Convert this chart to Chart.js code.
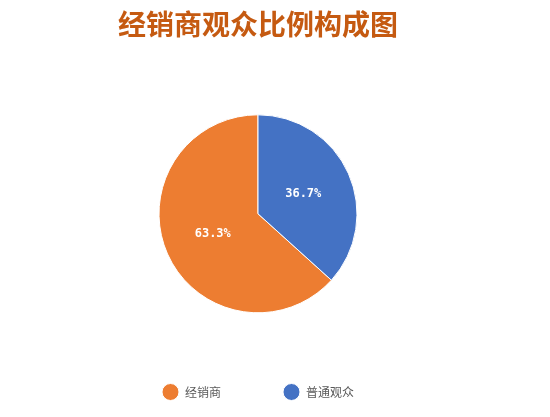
<!DOCTYPE html>
<html>
<head>
<meta charset="utf-8">
<script src="https://cdn.jsdelivr.net/npm/chart.js@4/dist/chart.umd.min.js"></script>
<style>
  html, body { margin: 0; padding: 0; background: #fff; }
  #wrap { width: 550px; height: 417px; }
</style>
</head>
<body>
<div id="wrap"><canvas id="chartPie"></canvas></div>
<script>
// data
const categories = ["经销商", "普通观众"];
const shares = [63.3, 36.7];
const sliceColors = ["#ED7D31", "#4472C4"];

// white percent text in the middle of each slice
const sliceLabels = {
    id: "sliceLabels",
    afterDatasetsDraw(chart) {
        const ctx = chart.ctx;
        const meta = chart.getDatasetMeta(0);
        const total = shares.reduce((a, b) => a + b, 0);
        ctx.save();
        ctx.fillStyle = "#fff";
        ctx.font = "bold 12px 'DejaVu Sans Mono', monospace";
        ctx.textAlign = "center";
        ctx.textBaseline = "middle";
        meta.data.forEach((arc, i) => {
            const p = arc.tooltipPosition();
            ctx.fillText((shares[i] / total * 100).toFixed(1) + "%", p.x, p.y);
        });
        ctx.restore();
    }
};

const startShare = shares[1] / shares.reduce((a, b) => a + b, 0);

new Chart(document.getElementById("chartPie"), {
    type: "pie",
    data: {
        labels: categories,
        datasets: [{
            data: shares,
            backgroundColor: sliceColors,
            borderColor: "#fff",
            borderWidth: 1,
            radius: 99
        }]
    },
    options: {
        responsive: true,
        maintainAspectRatio: false,
        animation: false,
        rotation: startShare * 360,
        layout: { padding: { top: 0, right: 34, bottom: 9, left: 0 } },
        plugins: {
            tooltip: { enabled: false },
            title: {
                display: true,
                text: "经销商观众比例构成图",
                color: "#C55A11",
                font: { size: 28, weight: "bold", family: "'Noto Sans CJK SC', sans-serif" },
                padding: { top: 8, bottom: 62 }
            },
            legend: {
                position: "bottom",
                labels: {
                    usePointStyle: true,
                    pointStyle: "circle",
                    pointStyleWidth: 17,
                    padding: 62,
                    color: "#595959",
                    font: { size: 12, family: "'Noto Sans CJK SC', sans-serif" }
                }
            }
        }
    },
    plugins: [sliceLabels]
});
</script>
</body>
</html>
